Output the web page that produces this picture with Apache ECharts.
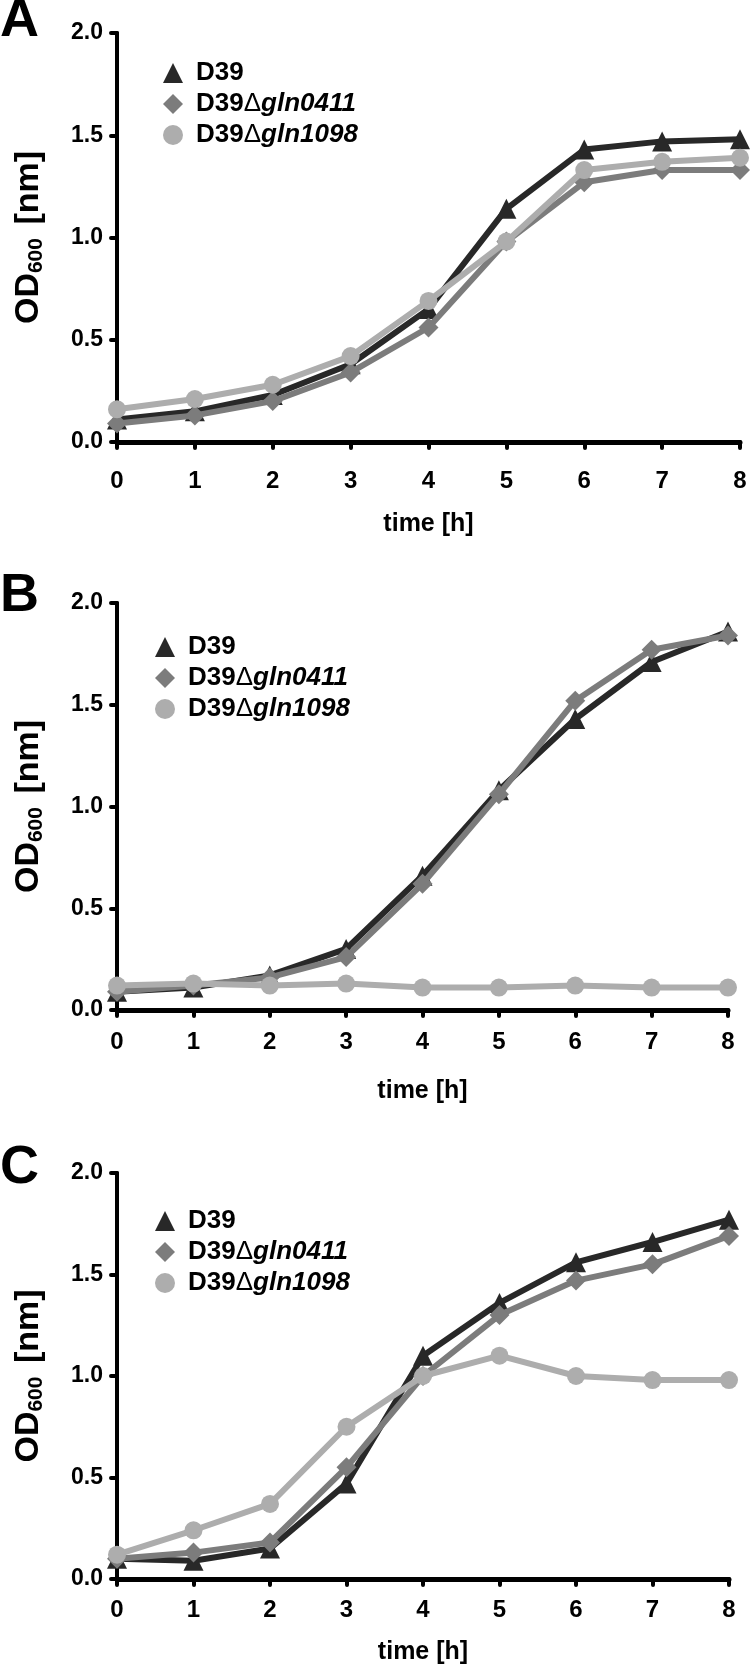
<!DOCTYPE html>
<html><head><meta charset="utf-8">
<script src="https://cdn.jsdelivr.net/npm/echarts@6/dist/echarts.min.js"></script>
<style>html,body{margin:0;padding:0;background:#fff}#c{width:750px;height:1667px}</style>
</head><body><div id="c"></div>
<script>
// ---- data ----
const hours = [0, 1, 2, 3, 4, 5, 6, 7, 8];
const seriesNames = ['D39', 'D39Δgln0411', 'D39Δgln1098'];
const panelLabels = ['A', 'B', 'C'];

const a_D39     = [0.11, 0.15, 0.23, 0.38, 0.65, 1.14, 1.43, 1.47, 1.48];
const a_gln0411 = [0.09, 0.13, 0.20, 0.34, 0.56, 0.98, 1.27, 1.33, 1.33];
const a_gln1098 = [0.16, 0.21, 0.28, 0.42, 0.69, 0.98, 1.33, 1.37, 1.39];

const b_D39     = [0.09, 0.11, 0.17, 0.30, 0.66, 1.08, 1.43, 1.71, 1.86];
const b_gln0411 = [0.09, 0.12, 0.16, 0.26, 0.62, 1.06, 1.52, 1.77, 1.84];
const b_gln1098 = [0.12, 0.13, 0.12, 0.13, 0.11, 0.11, 0.12, 0.11, 0.11];

const c_D39     = [0.10, 0.09, 0.15, 0.47, 1.10, 1.36, 1.56, 1.66, 1.77];
const c_gln0411 = [0.10, 0.13, 0.18, 0.55, 1.00, 1.30, 1.47, 1.55, 1.69];
const c_gln1098 = [0.12, 0.24, 0.37, 0.75, 1.00, 1.10, 1.00, 0.98, 0.98];

const yMin = 0, yMax = 2, yStep = 0.5;
const xMin = 0, xMax = 8, xStep = 1;

// ---- styles ----
const FONT = "'Liberation Sans', Arial, sans-serif";
const colors = ['#282828', '#7c7c7c', '#adadad'];
const symbols = ['triangle', 'diamond', 'circle'];
const symbolSizes = [20, 20, 18];

const panels = [
  { data: [a_D39, a_gln0411, a_gln1098], grid: { left: 117, top: 33, width: 623, height: 409 },
    legend: { left: 158, top: 55 }, letterTop: -6, nameGapX: 70, labelMargin: 27 },
  { data: [b_D39, b_gln0411, b_gln1098], grid: { left: 117, top: 603, width: 611, height: 407 },
    legend: { left: 150, top: 629 }, letterTop: 569, nameGapX: 69, labelMargin: 20 },
  { data: [c_D39, c_gln0411, c_gln1098], grid: { left: 117, top: 1173, width: 612, height: 406 },
    legend: { left: 150, top: 1203 }, letterTop: 1141, nameGapX: 61, labelMargin: 19 }
];

function pairs(arr) { return hours.map((h, i) => [h, arr[i]]); }

const option = {
  animation: false,
  backgroundColor: '#fff',
  textStyle: { fontFamily: FONT },
  grid: [], xAxis: [], yAxis: [], series: [], legend: [], graphic: []
};

panels.forEach((p, pi) => {
  option.grid.push(Object.assign({ containLabel: false }, p.grid));
  option.xAxis.push({
    type: 'value', gridIndex: pi, min: xMin, max: xMax, interval: xStep,
    splitLine: { show: false },
    axisLine: { show: true, onZero: false, lineStyle: { color: '#000', width: 5, cap: 'round' } },
    axisTick: { show: true, length: 6, lineStyle: { color: '#000', width: 4, cap: 'round' } },
    axisLabel: { color: '#000', fontFamily: FONT, fontWeight: 'bold', fontSize: 24, margin: p.labelMargin },
    name: 'time [h]', nameLocation: 'middle', nameGap: p.nameGapX,
    nameTextStyle: { color: '#000', fontFamily: FONT, fontWeight: 'bold', fontSize: 25 }
  });
  option.yAxis.push({
    type: 'value', gridIndex: pi, min: yMin, max: yMax, interval: yStep,
    splitLine: { show: false },
    axisLine: { show: true, onZero: false, lineStyle: { color: '#000', width: 4, cap: 'round' } },
    axisTick: { show: true, length: 6, lineStyle: { color: '#000', width: 4, cap: 'round' } },
    axisLabel: { color: '#000', fontFamily: FONT, fontWeight: 'bold', fontSize: 23, margin: 14,
      formatter: v => v.toFixed(1) },
    name: '{a|OD}{s|600}{a| [nm]}', nameLocation: 'middle', nameGap: 70, nameRotate: 90,
    nameTextStyle: { color: '#000', rich: {
      a: { fontFamily: FONT, fontWeight: 'bold', fontSize: 34, color: '#000' },
      s: { fontFamily: FONT, fontWeight: 'bold', fontSize: 21, color: '#000', verticalAlign: 'bottom', padding: [16, 4, 0, 0] }
    } }
  });
  seriesNames.forEach((nm, si) => {
    option.series.push({
      type: 'line', name: nm, xAxisIndex: pi, yAxisIndex: pi,
      data: pairs(p.data[si]),
      symbol: symbols[si], symbolSize: symbolSizes[si], showAllSymbol: true,
      lineStyle: { color: colors[si], width: 6 },
      itemStyle: { color: colors[si] },
      z: 2 + si
    });
  });
  option.legend.push({
    orient: 'vertical', left: p.legend.left, top: p.legend.top,
    itemWidth: 20, itemHeight: 20, itemGap: 5,
    data: seriesNames.map((nm, si) => ({ name: nm, icon: symbols[si],
      itemStyle: { color: colors[si] } })),
    selectedMode: false,
    formatter: function (name) {
      const k = name.indexOf('Δ');
      if (k < 0) return '{n|' + name + '}';
      return '{n|' + name.slice(0, k) + '}{d|Δ}{i|' + name.slice(k + 1) + '}';
    },
    textStyle: { color: '#000', lineHeight: 20, rich: {
      n: { fontFamily: FONT, fontWeight: 'bold', fontSize: 26, lineHeight: 20, padding: [0, 0, 0, 8], color: '#000' },
      d: { fontFamily: FONT, fontWeight: 'normal', fontSize: 26, lineHeight: 20, color: '#000' },
      i: { fontFamily: FONT, fontWeight: 'bold', fontStyle: 'italic', fontSize: 26, lineHeight: 20, color: '#000' }
    } }
  });
  option.graphic.push({
    type: 'text', left: 0, top: p.letterTop,
    style: { text: panelLabels[pi], font: "bold 54px 'Liberation Sans', Arial, sans-serif", fill: '#000' }
  });
});

const chart = echarts.init(document.getElementById('c'), null, { renderer: 'canvas' });
chart.setOption(option);
</script>
</body></html>
